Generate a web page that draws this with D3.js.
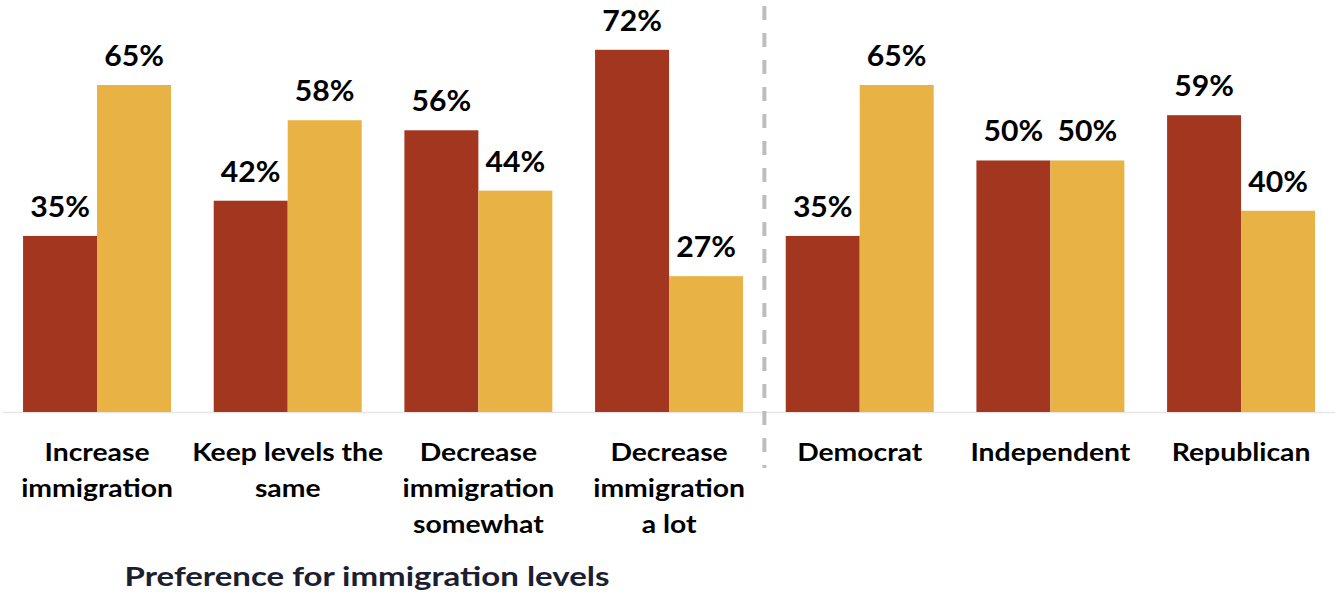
<!DOCTYPE html>
<html>
<head>
<meta charset="utf-8">
<script src="https://cdn.jsdelivr.net/npm/d3@7"></script>
<style>
  html, body { margin: 0; padding: 0; background: #fff; }
  svg { display: block; }
  text { font-family: Lato, "Open Sans", sans-serif; font-weight: 700; }
</style>
</head>
<body>
<svg id="chart" width="1335" height="592"></svg>
<script>
// ---- data ----
const categories = [
  ["Increase", "immigration"],
  ["Keep levels the", "same"],
  ["Decrease", "immigration", "somewhat"],
  ["Decrease", "immigration", "a lot"],
  ["Democrat"],
  ["Independent"],
  ["Republican"]
];
const seriesNames = ["series1", "series2"];
const series1 = [35, 42, 56, 72, 35, 50, 59];
const series2 = [65, 58, 44, 27, 65, 50, 40];
const axisTitle = "Preference for immigration levels";
const panelSplit = 4; // first 4 groups are the left panel

// ---- layout ----
const W = 1335, H = 592;
const baseY = 412;
const colors = { series1: "#A3361F", series2: "#E8B245" };
const svg = d3.select("#chart");

const keys = categories.map((c, i) => "g" + i);
const x0 = d3.scaleBand().domain(keys).range([1.7, 1336.4])
  .paddingInner(0.224).paddingOuter(0.112);
const x1 = d3.scaleBand().domain(seriesNames).range([0, x0.bandwidth()]).padding(0);
const y = d3.scaleLinear().domain([0, 81.9]).range([baseY, 0]);

// baseline
svg.append("line")
  .attr("x1", 2).attr("x2", W).attr("y1", baseY + 0.5).attr("y2", baseY + 0.5)
  .attr("stroke", "#E6E6E6").attr("stroke-width", 1.5);

// separator
const sepX = (x0(keys[panelSplit - 1]) + x0.bandwidth() + x0(keys[panelSplit])) / 2;
svg.append("line")
  .attr("x1", sepX).attr("x2", sepX).attr("y1", 6).attr("y2", 468)
  .attr("stroke", "#BDBDBD").attr("stroke-width", 4)
  .attr("stroke-dasharray", "14 13");

const rows = keys.map((k, i) => ({ key: k, vals: [
  { s: "series1", v: series1[i] }, { s: "series2", v: series2[i] }
]}));

const groups = svg.selectAll("g.grp").data(rows).enter().append("g")
  .attr("class", "grp")
  .attr("transform", d => `translate(${x0(d.key)},0)`);

groups.selectAll("rect").data(d => d.vals).enter().append("rect")
  .attr("x", d => x1(d.s))
  .attr("width", x1.bandwidth())
  .attr("y", d => y(d.v))
  .attr("height", d => baseY - y(d.v))
  .attr("fill", d => colors[d.s]);

groups.selectAll("text.val").data(d => d.vals).enter().append("text")
  .attr("class", "val")
  .attr("transform", d => `translate(${x1(d.s) + x1.bandwidth() / 2},${y(d.v) - 19}) scale(1.04,1)`)
  .attr("text-anchor", "middle")
  .attr("font-size", 29)
  .attr("fill", "#000")
  .text(d => d.v + "%");

// category labels
const catG = svg.selectAll("g.cat").data(categories).enter().append("g")
  .attr("class", "cat")
  .attr("transform", (d, i) => `translate(${x0(keys[i]) + x0.bandwidth() / 2},0)`);
catG.selectAll("text").data(d => d).enter().append("text")
  .attr("transform", (d, j) => `translate(0,${461 + j * 36}) scale(1.18,1)`)
  .attr("text-anchor", "middle")
  .attr("font-size", 24)
  .attr("fill", "#000")
  .text(d => d);

// axis title
svg.append("text")
  .attr("transform", "translate(367,586) scale(1.2,1)")
  .attr("text-anchor", "middle")
  .attr("font-size", 27.5)
  .attr("fill", "#1B2030")
  .text(axisTitle);
</script>
</body>
</html>
